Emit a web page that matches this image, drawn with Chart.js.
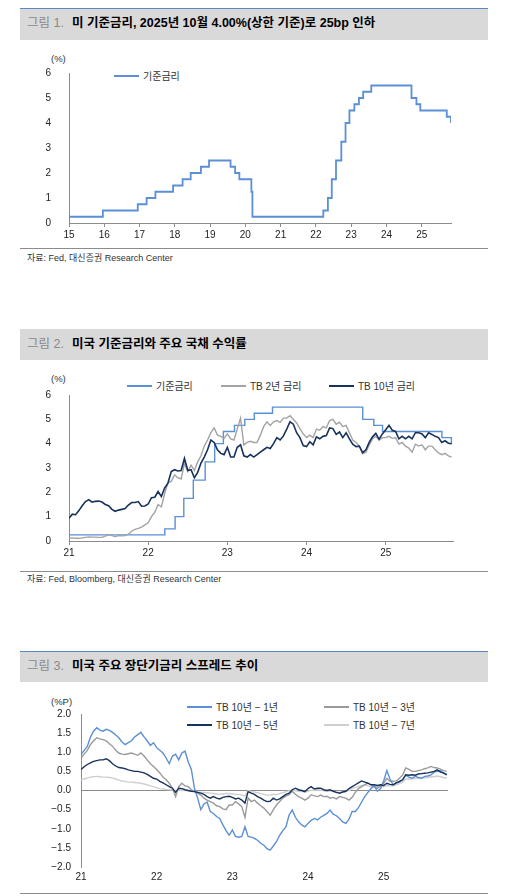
<!DOCTYPE html>
<html>
<head>
<meta charset="utf-8">
<script src="https://cdn.jsdelivr.net/npm/chart.js@4.4.1/dist/chart.umd.min.js"></script>
<style>
  body{margin:0;width:507px;height:896px;background:#fff;position:relative;overflow:hidden;
       font-family:"Liberation Sans","Noto Sans CJK KR",sans-serif;color:#222}
  .hdr{position:absolute;left:20px;width:468px;background:#d9d9d9;font-size:12.5px;line-height:28px;
       padding-left:7px;box-sizing:border-box;white-space:nowrap}
  .hdr .fig{color:#8a8a8a;margin-right:8px}
  .hdr b{color:#000}
  .rule{position:absolute;left:20px;width:468px;height:1px;background:#8c8c8c}
  .src{position:absolute;left:27px;font-size:9px;color:#333;white-space:nowrap}
  .unit{position:absolute;font-size:9.5px;color:#333}
  .lg{position:absolute;font-size:10px;color:#333;white-space:nowrap;line-height:12px}
  .lg i{display:inline-block;width:25px;height:2px;vertical-align:middle;margin-right:4px;position:relative;top:-1px}
  canvas{position:absolute}
</style>
</head>
<body>

<div class="hdr" style="top:8px;height:32px;border-top:1px solid #5b87c5"><span class="fig">그림 1.</span><b>미 기준금리, 2025년 10월 4.00%(상한 기준)로 25bp 인하</b></div>
<div class="unit" style="left:51px;top:53px">(%)</div>
<div class="lg" style="left:114px;top:71px"><i style="background:#5b8fd6"></i>기준금리</div>
<canvas id="c1" width="440" height="186" style="left:20px;top:57px"></canvas>
<div class="rule" style="top:248px"></div>
<div class="src" style="top:251px">자료: Fed, 대신증권 Research Center</div>

<div class="hdr" style="top:329px;height:31px;line-height:30px"><span class="fig">그림 2.</span><b>미국 기준금리와 주요 국채 수익률</b></div>
<div class="unit" style="left:51px;top:373px">(%)</div>
<div class="lg" style="left:127px;top:381px"><i style="background:#5b8fd6"></i>기준금리</div>
<div class="lg" style="left:221px;top:381px"><i style="background:#a3a3a3"></i>TB 2년 금리</div>
<div class="lg" style="left:329px;top:381px"><i style="background:#17325c"></i>TB 10년 금리</div>
<canvas id="c2" width="442" height="182" style="left:20px;top:379px"></canvas>
<div class="rule" style="top:571px"></div>
<div class="src" style="top:572px">자료: Fed, Bloomberg, 대신증권 Research Center</div>

<div class="hdr" style="top:651px;height:31px;border-top:1px solid #5b87c5"><span class="fig">그림 3.</span><b>미국 주요 장단기금리 스프레드 추이</b></div>
<div class="unit" style="left:51px;top:696px">(%P)</div>
<div class="lg" style="left:187px;top:702px"><i style="background:#5b8fd6"></i>TB 10년 − 1년</div>
<div class="lg" style="left:324px;top:702px"><i style="background:#9a9a9a"></i>TB 10년 − 3년</div>
<div class="lg" style="left:187px;top:720px"><i style="background:#17325c"></i>TB 10년 − 5년</div>
<div class="lg" style="left:324px;top:720px"><i style="background:#cfcfcf"></i>TB 10년 − 7년</div>
<canvas id="c3" width="437" height="189" style="left:20px;top:698px"></canvas>
<div class="rule" style="top:893px"></div>

<script>
// ─── DATA ─────────────────────────────────────────────────────────────────────
// Fed funds target (upper bound): change dates as yy.fraction, new level
const rateDates = [15.00, 15.96, 16.95, 17.20, 17.45, 17.95, 18.22, 18.45, 18.74, 18.97,
                   19.58, 19.71, 19.83, 20.17, 20.20, 22.21, 22.34, 22.45, 22.57, 22.72,
                   22.84, 22.95, 23.09, 23.22, 23.34, 23.57, 24.71, 24.85, 24.96, 25.71, 25.83];
const rateVals  = [0.25, 0.50, 0.75, 1.00, 1.25, 1.50, 1.75, 2.00, 2.25, 2.50,
                   2.25, 2.00, 1.75, 1.25, 0.25, 0.50, 1.00, 1.75, 2.50, 3.25,
                   4.00, 4.50, 4.75, 5.00, 5.25, 5.50, 5.00, 4.75, 4.50, 4.25, 4.00];

// semi-monthly observations, Jan-2021 .. Nov-2025 (two per month)
const years = [21, 22, 23, 24, 25];
const lastHalf = 20;  // 2025: up to 1 Nov

const tb10 = [
  0.93,1.10,1.08,1.25,1.45,1.62,1.70,1.60,1.63,1.64,1.60,1.50,1.45,1.30,1.22,1.27,1.30,1.33,1.48,1.58,1.58,1.62,1.43,1.44,
  1.52,1.78,1.80,2.03,1.83,2.18,2.38,2.85,2.93,2.88,2.90,3.40,2.90,2.93,2.60,2.82,3.20,3.45,3.75,4.15,4.05,3.75,3.60,3.55,
  3.85,3.45,3.45,3.85,3.95,3.50,3.45,3.55,3.45,3.55,3.65,3.75,3.85,3.80,4.00,4.25,4.15,4.32,4.60,4.90,4.80,4.45,4.25,3.92,
  3.88,4.08,3.95,4.28,4.20,4.30,4.33,4.65,4.62,4.38,4.48,4.25,4.45,4.20,3.98,3.88,3.90,3.63,3.75,4.05,4.28,4.42,4.18,4.40,
  4.57,4.75,4.55,4.50,4.20,4.30,4.20,4.30,4.20,4.45,4.45,4.40,4.25,4.45,4.38,4.30,4.25,4.05,4.12,4.02,4.00];
const tb2 = [
  0.12,0.13,0.11,0.11,0.13,0.15,0.17,0.16,0.16,0.15,0.15,0.20,0.25,0.22,0.18,0.22,0.21,0.22,0.28,0.40,0.48,0.52,0.57,0.66,
  0.75,1.00,1.18,1.50,1.40,1.95,2.40,2.45,2.72,2.60,2.55,3.20,2.85,3.12,2.90,3.25,3.50,3.90,4.15,4.45,4.65,4.35,4.30,4.22,
  4.40,4.20,4.15,4.60,5.05,3.95,4.05,4.10,4.05,4.05,4.35,4.70,4.90,4.75,4.90,4.95,4.88,5.05,5.05,5.15,5.00,4.85,4.62,4.40,
  4.25,4.35,4.25,4.60,4.55,4.70,4.65,4.95,5.00,4.80,4.88,4.70,4.75,4.45,4.15,4.05,3.90,3.58,3.65,3.95,4.20,4.30,4.15,4.25,
  4.25,4.30,4.22,4.25,3.98,4.05,3.90,3.82,3.65,3.98,3.90,3.95,3.75,3.90,3.90,3.75,3.62,3.55,3.60,3.50,3.45];

const sp1 = [
  0.94,1.05,1.15,1.40,1.55,1.64,1.58,1.55,1.60,1.57,1.52,1.45,1.38,1.27,1.20,1.25,1.30,1.40,1.46,1.52,1.40,1.30,1.18,1.25,
  1.12,1.05,0.98,0.85,0.70,0.90,0.95,0.80,0.98,1.03,0.75,0.55,0.05,-0.20,-0.50,-0.35,-0.30,-0.55,-0.60,-0.68,-0.73,-0.90,-1.05,-1.17,
  -1.03,-1.20,-1.22,-1.20,-0.95,-1.20,-1.22,-1.25,-1.30,-1.38,-1.43,-1.52,-1.56,-1.45,-1.34,-1.17,-1.05,-0.95,-0.64,-0.51,-0.70,-0.82,-0.90,-0.95,
  -0.86,-0.78,-0.73,-0.77,-0.70,-0.65,-0.60,-0.51,-0.62,-0.66,-0.73,-0.82,-0.86,-0.75,-0.55,-0.55,-0.45,-0.30,-0.16,-0.05,0.05,0.12,-0.02,0.05,
  0.25,0.52,0.30,0.15,0.20,0.22,0.28,0.40,0.35,0.32,0.37,0.34,0.32,0.37,0.38,0.41,0.48,0.50,0.52,0.45,0.42];
const sp3 = [
  0.85,0.95,1.05,1.20,1.30,1.38,1.35,1.33,1.30,1.22,1.16,1.05,0.98,0.95,0.94,0.96,0.98,0.95,0.92,0.98,0.90,0.80,0.70,0.63,
  0.55,0.46,0.35,0.28,0.19,0.06,-0.16,0.10,0.19,0.12,0.10,0.02,-0.03,-0.07,-0.12,-0.20,-0.25,-0.29,-0.33,-0.40,-0.42,-0.48,-0.50,-0.38,
  -0.38,-0.29,-0.35,-0.42,-0.70,-0.20,-0.29,-0.25,-0.33,-0.40,-0.46,-0.55,-0.65,-0.50,-0.38,-0.29,-0.20,-0.15,-0.11,-0.02,-0.10,-0.16,-0.20,-0.25,
  -0.20,-0.11,-0.14,-0.16,-0.12,-0.16,-0.15,-0.20,-0.18,-0.22,-0.16,-0.18,-0.20,-0.25,-0.18,-0.05,0.05,0.10,0.15,0.19,0.15,0.10,0.06,0.12,
  0.19,0.32,0.24,0.24,0.25,0.32,0.40,0.59,0.55,0.50,0.50,0.52,0.54,0.57,0.59,0.63,0.60,0.59,0.56,0.52,0.50];
const sp5 = [
  0.55,0.62,0.68,0.72,0.76,0.78,0.80,0.80,0.83,0.78,0.70,0.64,0.60,0.59,0.57,0.54,0.52,0.50,0.50,0.48,0.46,0.42,0.37,0.32,
  0.30,0.24,0.20,0.15,0.10,0.06,-0.05,0.06,0.05,0.02,0.00,-0.02,-0.03,-0.05,-0.07,-0.10,-0.16,-0.20,-0.16,-0.20,-0.22,-0.18,-0.16,-0.15,
  -0.18,-0.22,-0.20,-0.25,-0.33,-0.03,-0.07,-0.10,-0.16,-0.20,-0.25,-0.29,-0.28,-0.20,-0.25,-0.22,-0.16,-0.10,-0.07,0.02,0.06,0.02,0.00,-0.03,
  0.05,0.10,0.04,0.06,0.06,0.02,0.00,0.02,-0.02,-0.05,-0.07,-0.04,-0.02,0.05,0.10,0.15,0.20,0.25,0.22,0.19,0.15,0.15,0.13,0.15,
  0.13,0.19,0.16,0.15,0.20,0.24,0.28,0.41,0.40,0.41,0.40,0.43,0.44,0.45,0.46,0.48,0.50,0.54,0.48,0.46,0.41];
const sp7 = [
  0.28,0.30,0.33,0.35,0.36,0.37,0.36,0.35,0.35,0.34,0.33,0.30,0.27,0.25,0.24,0.22,0.22,0.21,0.20,0.19,0.17,0.15,0.12,0.10,
  0.07,0.05,0.04,0.03,0.02,0.02,0.00,0.01,0.00,0.00,-0.01,-0.02,-0.02,-0.04,-0.05,-0.05,-0.06,-0.07,-0.08,-0.09,-0.10,-0.09,-0.08,-0.08,
  -0.09,-0.10,-0.10,-0.12,-0.14,0.00,-0.03,-0.04,-0.06,-0.08,-0.10,-0.12,-0.12,-0.10,-0.11,-0.08,-0.06,-0.03,-0.01,0.01,0.00,-0.02,-0.03,-0.04,
  -0.02,0.01,0.00,0.02,0.01,-0.01,-0.02,-0.01,-0.03,-0.04,-0.05,-0.04,-0.03,0.00,0.05,0.08,0.10,0.13,0.15,0.12,0.10,0.10,0.10,0.11,
  0.10,0.13,0.12,0.12,0.15,0.18,0.22,0.30,0.30,0.30,0.31,0.32,0.32,0.33,0.34,0.36,0.36,0.38,0.36,0.34,0.32];

// ─── HELPERS ──────────────────────────────────────────────────────────────────
const halfMonths = [];
years.forEach(y => { for (let k = 0; k < 24; k++) { if (y === 25 && k > lastHalf) break; halfMonths.push(y + k/24); } });

const xy = (xs, ys) => ys.map((v,i) => ({x:xs[i], y:v}));
const AXIS = '#8c8c8c';
const BLUE = '#5b8fd6', NAVY = '#17325c', GRAY = '#a3a3a3';

Chart.defaults.font.family = '"Liberation Sans","Noto Sans CJK KR",sans-serif';
Chart.defaults.font.size = 10;
Chart.defaults.color = '#222';

function opts({xMin, xMax, yMin, yMax, yStep, yW, fmtY, zeroLine}) {
  return {
    responsive:false, animation:false,
    layout:{padding:{top:0, right:9, left:0, bottom:0}},
    plugins:{legend:{display:false}, tooltip:{enabled:false}},
    elements:{point:{radius:0}, line:{tension:0}},
    scales:{
      x:{type:'linear', min:xMin, max:xMax, afterFit:s => { s.height = 20; },
         ticks:{stepSize:1, includeBounds:false, autoSkip:false, maxRotation:0, padding: zeroLine ? -4 : 2,
                callback:v => Number.isInteger(v) ? String(v) : ''},
         grid: zeroLine ? {display:false} : {drawOnChartArea:false, color:AXIS, tickLength:4},
         border:{display:!zeroLine, color:AXIS}},
      y:{min:yMin, max:yMax, afterFit:s => { s.width = yW; },
         ticks:{stepSize:yStep, padding:10, callback:fmtY},
         grid: zeroLine ? {drawTicks:false, color:c => (c.tick && c.tick.value === 0) ? AXIS : 'rgba(0,0,0,0)'}
                        : {display:false},
         border:{color:AXIS}}
    }
  };
}

// ─── 그림 1 ───────────────────────────────────────────────────────────────────
new Chart(document.getElementById('c1'), {
  type:'line',
  data:{datasets:[{label:'기준금리', data:xy(rateDates, rateVals), stepped:'before',
                   borderColor:BLUE, borderWidth:1.8}]},
  options:opts({xMin:15, xMax:25.83, yMin:0, yMax:6, yStep:1, yW:49, fmtY:v => String(v)})
});

// ─── 그림 2 ───────────────────────────────────────────────────────────────────
new Chart(document.getElementById('c2'), {
  type:'line',
  data:{datasets:[
    {label:'TB 10년 금리', data:xy(halfMonths, tb10), borderColor:NAVY, borderWidth:1.6},
    {label:'TB 2년 금리', data:xy(halfMonths, tb2), borderColor:GRAY, borderWidth:1.4},
    {label:'기준금리', data:xy(rateDates, rateVals), stepped:'before', borderColor:BLUE, borderWidth:1.4}
  ]},
  options:opts({xMin:21, xMax:25.85, yMin:0, yMax:6, yStep:1, yW:49, fmtY:v => String(v)})
});

// ─── 그림 3 ───────────────────────────────────────────────────────────────────
new Chart(document.getElementById('c3'), {
  type:'line',
  data:{datasets:[
    {label:'TB 10년 - 5년', data:xy(halfMonths, sp5), borderColor:NAVY, borderWidth:1.4},
    {label:'TB 10년 - 1년', data:xy(halfMonths, sp1), borderColor:BLUE, borderWidth:1.4},
    {label:'TB 10년 - 3년', data:xy(halfMonths, sp3), borderColor:'#9a9a9a', borderWidth:1.4},
    {label:'TB 10년 - 7년', data:xy(halfMonths, sp7), borderColor:'#cfcfcf', borderWidth:1.4}
  ]},
  options:opts({xMin:21, xMax:25.85, yMin:-2, yMax:2, yStep:0.5, yW:61, zeroLine:true,
                fmtY:v => (v < 0 ? '−' : '') + Math.abs(v).toFixed(1)})
});
</script>
</body>
</html>
